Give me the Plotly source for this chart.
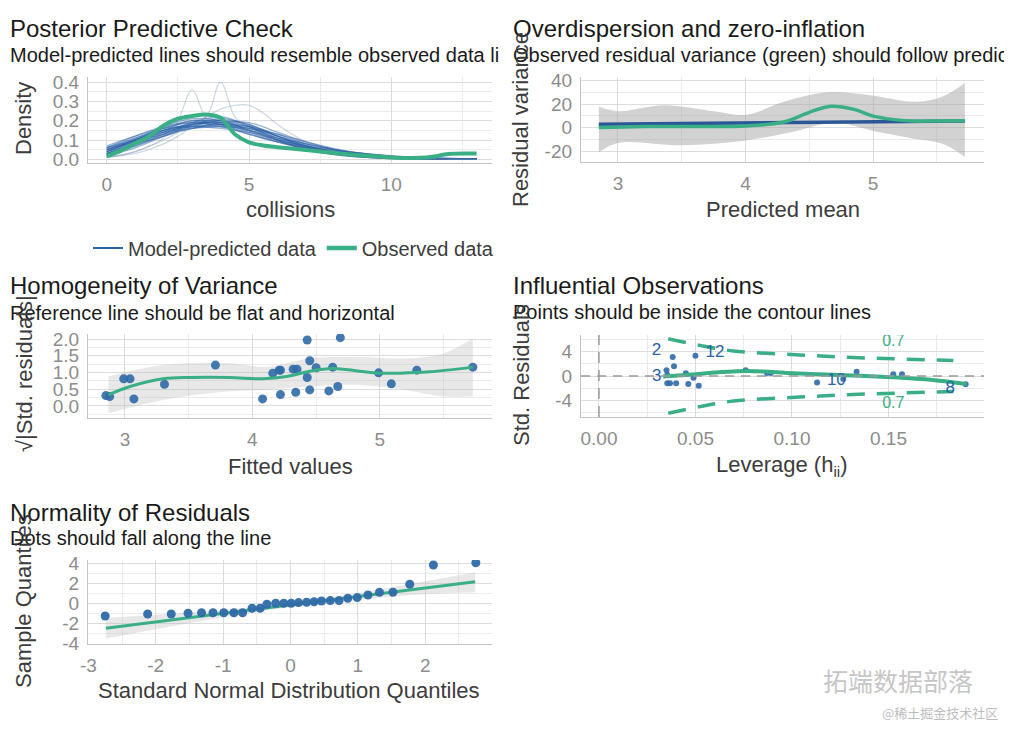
import plotly.graph_objects as go

W, H = 1012, 738
OFF = 8  # page body margin compensation (layout only)
BLUE = '#2f6aa6'
BLUE_LINE = '#2b5797'
GREEN = '#3aaf85'
FONT = 'Liberation Sans, Arial, sans-serif'

# ---------------- Panel 1: Posterior predictive check ----------------
ppc_x = [0, 1, 2, 3, 4, 5, 6, 7, 8, 9, 10, 11, 12, 13]
ppc_pred = [
    [0.05, 0.10, 0.15, 0.18, 0.19, 0.16, 0.11, 0.07, 0.04, 0.02, 0.010, 0.005, 0.003, 0.002],
    [0.03, 0.08, 0.14, 0.19, 0.20, 0.15, 0.10, 0.06, 0.03, 0.015, 0.008, 0.004, 0.002, 0.001],
    [0.06, 0.11, 0.15, 0.17, 0.17, 0.15, 0.11, 0.08, 0.05, 0.03, 0.015, 0.007, 0.003, 0.002],
    [0.02, 0.06, 0.12, 0.18, 0.21, 0.18, 0.12, 0.06, 0.03, 0.012, 0.005, 0.002, 0.001, 0.001],
    [0.04, 0.09, 0.13, 0.16, 0.18, 0.17, 0.13, 0.08, 0.05, 0.025, 0.012, 0.006, 0.003, 0.002],
    [0.05, 0.11, 0.16, 0.20, 0.18, 0.13, 0.09, 0.06, 0.035, 0.02, 0.010, 0.005, 0.002, 0.001],
    [0.03, 0.07, 0.12, 0.16, 0.19, 0.19, 0.14, 0.09, 0.05, 0.02, 0.010, 0.004, 0.002, 0.001],
    [0.06, 0.12, 0.17, 0.19, 0.17, 0.13, 0.09, 0.06, 0.04, 0.025, 0.015, 0.008, 0.004, 0.002],
    [0.04, 0.10, 0.17, 0.21, 0.20, 0.15, 0.10, 0.05, 0.025, 0.012, 0.006, 0.003, 0.001, 0.001],
    [0.05, 0.09, 0.14, 0.17, 0.18, 0.16, 0.12, 0.08, 0.05, 0.03, 0.016, 0.008, 0.004, 0.002],
    [0.03, 0.08, 0.13, 0.18, 0.19, 0.17, 0.12, 0.07, 0.04, 0.02, 0.009, 0.004, 0.002, 0.001],
    [0.07, 0.12, 0.16, 0.17, 0.16, 0.14, 0.10, 0.07, 0.045, 0.03, 0.018, 0.010, 0.005, 0.003],
    [0.04, 0.10, 0.15, 0.18, 0.20, 0.17, 0.11, 0.06, 0.03, 0.015, 0.007, 0.003, 0.001, 0.001],
    [0.02, 0.07, 0.13, 0.19, 0.22, 0.17, 0.10, 0.05, 0.025, 0.010, 0.004, 0.002, 0.001, 0.0],
    [0.05, 0.10, 0.16, 0.19, 0.18, 0.15, 0.10, 0.065, 0.04, 0.022, 0.011, 0.005, 0.002, 0.001],
    [0.03, 0.09, 0.15, 0.20, 0.19, 0.14, 0.09, 0.055, 0.03, 0.016, 0.008, 0.004, 0.002, 0.001],
    [0.06, 0.10, 0.14, 0.16, 0.17, 0.16, 0.13, 0.09, 0.055, 0.03, 0.015, 0.007, 0.003, 0.002],
    [0.04, 0.08, 0.12, 0.17, 0.20, 0.18, 0.12, 0.07, 0.035, 0.016, 0.007, 0.003, 0.001, 0.001],
]
ppc_x_fine = [0, 1, 2, 2.5, 3, 3.5, 4, 4.5, 5, 5.5, 6, 7, 8, 9, 10, 11, 12, 13]
ppc_pred_fine = [
    [0.01, 0.04, 0.11, 0.20, 0.36, 0.21, 0.17, 0.19, 0.15, 0.12, 0.10, 0.06, 0.03, 0.015, 0.007, 0.003, 0.001, 0.0],
    [0.01, 0.04, 0.10, 0.14, 0.20, 0.22, 0.40, 0.22, 0.16, 0.12, 0.09, 0.05, 0.025, 0.012, 0.005, 0.002, 0.001, 0.0],
    [0.01, 0.03, 0.08, 0.12, 0.17, 0.22, 0.26, 0.28, 0.28, 0.24, 0.18, 0.09, 0.04, 0.015, 0.005, 0.002, 0.001, 0.0],
]
ppc_obs_x = [0, 0.5, 1, 1.5, 2, 2.5, 3, 3.5, 4, 4.5, 5, 5.5, 6, 7, 8, 9, 10, 11, 11.5, 12, 13]
ppc_obs_y = [0.017, 0.045, 0.083, 0.12, 0.175, 0.21, 0.224, 0.232, 0.215, 0.13, 0.088, 0.072,
             0.063, 0.048, 0.033, 0.02, 0.01, 0.008, 0.015, 0.028, 0.03]
ppc_xticks = [0, 5, 10]
ppc_xtext = ['0', '5', '10']
ppc_yticks = [0, 0.1, 0.2, 0.3, 0.4]
ppc_ytext = ['0.0', '0.1', '0.2', '0.3', '0.4']

# ---------------- Panel 2: Overdispersion ----------------
od_pred_x = [2.85, 5.72]
od_pred_y = [2.9, 5.6]
od_obs_x = [2.85, 3.2, 3.6, 4.0, 4.3, 4.5, 4.67, 4.85, 5.0, 5.15, 5.3, 5.5, 5.72]
od_obs_y = [0.0, 1.0, 1.0, 1.4, 4.8, 13.0, 18.2, 15.5, 9.8, 7.0, 5.6, 5.6, 5.8]
od_up_x = [2.85, 3.0, 3.36, 3.75, 4.01, 4.3, 4.64, 4.95, 5.34, 5.55, 5.72]
od_up_y = [18, 14, 19, 14, 11, 22, 30, 28, 22, 26.6, 37.8]
od_lo_x = [2.85, 3.0, 3.5, 4.0, 4.35, 4.7, 5.05, 5.3, 5.55, 5.72]
od_lo_y = [-21, -13, -15, -11, -4, 4, -4, -9, -14, -25]
od_xticks = [3, 4, 5]
od_xtext = ['3', '4', '5']
od_yticks = [-20, 0, 20, 40]
od_ytext = ['-20', '0', '20', '40']

# ---------------- Panel 3: Homogeneity of variance ----------------
hv_x = [2.85, 2.88, 2.99, 3.04, 3.07, 3.31, 3.71, 4.08, 4.16, 4.21, 4.22, 4.22, 4.32, 4.35,
        4.34, 4.43, 4.45, 4.43, 4.45, 4.50, 4.60, 4.63, 4.67, 4.69, 4.99, 5.09, 5.29, 5.73]
hv_y = [0.31, 0.28, 0.81, 0.81, 0.21, 0.65, 1.22, 0.21, 0.98, 1.07, 1.07, 0.34, 1.10, 1.10,
        0.41, 1.97, 1.35, 0.85, 0.48, 1.14, 0.45, 1.16, 0.58, 2.04, 0.99, 0.66, 1.07, 1.16]
hv_fit_x = [2.87, 3.04, 3.30, 3.51, 3.82, 4.08, 4.27, 4.45, 4.63, 4.84, 5.0, 5.16, 5.39, 5.73]
hv_fit_y = [0.33, 0.58, 0.81, 0.85, 0.85, 0.81, 0.88, 1.04, 1.12, 1.04, 0.98, 0.98, 1.02, 1.16]
hv_band_x = [2.87, 3.3, 3.8, 4.1, 4.45, 4.8, 5.2, 5.5, 5.73]
hv_band_up = [0.88, 1.22, 1.28, 1.17, 1.42, 1.47, 1.42, 1.57, 2.02]
hv_band_lo = [-0.22, 0.18, 0.43, 0.48, 0.58, 0.63, 0.48, 0.28, 0.28]
hv_xticks = [3, 4, 5]
hv_xtext = ['3', '4', '5']
hv_yticks = [0, 0.5, 1.0, 1.5, 2.0]
hv_ytext = ['0.0', '0.5', '1.0', '1.5', '2.0']

# ---------------- Panel 4: Influential observations ----------------
io_x = [0.035, 0.0354, 0.0382, 0.0389, 0.0354, 0.0368, 0.040, 0.045, 0.0463, 0.049, 0.050,
        0.0517, 0.076, 0.087, 0.089, 0.113, 0.1266, 0.1335, 0.1525, 0.157, 0.190]
io_y = [0.96, 0.16, 3.1, 1.6, -1.2, -1.2, -1.2, 0.43, -1.3, -0.3, 3.3,
        -1.6, 0.96, 0.5, 0.5, -1.07, -0.5, 0.69, 0.3, 0.3, -1.33]
io_fit_x = [0.0333, 0.045, 0.076, 0.1007, 0.125, 0.1525, 0.173, 0.1905]
io_fit_y = [-0.1, 0.16, 0.8, 0.43, 0.16, -0.2, -0.64, -1.3]
io_cook_x = [0.0359, 0.0523, 0.0696, 0.104, 0.1387, 0.1836]
io_cook_up = [6.1, 5.0, 4.1, 3.45, 2.95, 2.55]
io_cook_lo = [-6.1, -5.0, -4.1, -3.45, -2.95, -2.55]
io_lab_text = ['2', '12', '3', '10', '8']
io_lab_x = [0.0298, 0.0601, 0.0300, 0.123, 0.182]
io_lab_y = [4.2, 3.8, -0.15, -0.7, -2.1]
io_cook_lab = ['0.7', '0.7']
io_cook_lab_x = [0.1525, 0.1525]
io_cook_lab_y = [5.5, -4.6]
io_xticks = [0, 0.05, 0.10, 0.15]
io_xtext = ['0.00', '0.05', '0.10', '0.15']
io_yticks = [-4, 0, 4]
io_ytext = ['-4', '0', '4']

# ---------------- Panel 5: Normality of residuals ----------------
qq_x = [-2.75, -2.12, -1.77, -1.52, -1.32, -1.15, -0.99, -0.84, -0.71, -0.57, -0.45, -0.35,
        -0.22, -0.10, 0.01, 0.12, 0.24, 0.35, 0.46, 0.59, 0.72, 0.85, 0.99, 1.15, 1.32, 1.52,
        1.77, 2.12, 2.75]
qq_y = [-1.27, -1.07, -1.07, -1.0, -0.94, -0.94, -0.94, -0.94, -0.94, -0.5, -0.5, -0.1,
        0.0, 0.0, 0.0, 0.07, 0.1, 0.16, 0.23, 0.27, 0.27, 0.5, 0.57, 0.83, 1.1, 1.1,
        1.9, 3.83, 4.06]
qq_line_x = [-2.74, 2.74]
qq_line_y = [-2.5, 2.16]
qq_band_x = [-2.74, -2.0, -1.0, 0.0, 1.0, 2.0, 2.74]
qq_band_up = [-1.45, -1.15, -0.65, 0.05, 1.0, 2.2, 3.1]
qq_band_lo = [-3.55, -2.6, -1.4, -0.4, 0.35, 0.9, 1.1]
qq_xticks = [-3, -2, -1, 0, 1, 2]
qq_xtext = ['-3', '-2', '-1', '0', '1', '2']
qq_yticks = [-4, -2, 0, 2, 4]
qq_ytext = ['-4', '-2', '0', '2', '4']


def px(p):
    return (p - OFF) / W


def py(p):
    return 1 - (p - OFF) / H


fig = go.Figure()
common = dict(showlegend=False, hoverinfo='skip')

# Panel 1
for ys in ppc_pred:
    fig.add_trace(go.Scatter(x=ppc_x, y=ys, mode='lines', xaxis='x', yaxis='y',
                             line=dict(color='rgba(30,88,165,0.45)', width=1.4, shape='spline'), **common))
for ys in ppc_pred_fine:
    fig.add_trace(go.Scatter(x=ppc_x_fine, y=ys, mode='lines', xaxis='x', yaxis='y',
                             line=dict(color='rgba(110,140,175,0.35)', width=1.2, shape='spline'), **common))
fig.add_trace(go.Scatter(x=ppc_obs_x, y=ppc_obs_y, mode='lines', xaxis='x', yaxis='y',
                         line=dict(color=GREEN, width=4, shape='spline'), **common))
fig.add_trace(go.Scatter(x=[None], y=[None], mode='lines', xaxis='x', yaxis='y', name='Model-predicted data',
                         line=dict(color='#2b62a8', width=2), showlegend=True))
fig.add_trace(go.Scatter(x=[None], y=[None], mode='lines', xaxis='x', yaxis='y', name='Observed data',
                         line=dict(color=GREEN, width=4.5), showlegend=True))

# Panel 2
fig.add_trace(go.Scatter(x=od_up_x, y=od_up_y, mode='lines', xaxis='x2', yaxis='y2',
                         line=dict(width=0, shape='spline'), **common))
fig.add_trace(go.Scatter(x=od_lo_x, y=od_lo_y, mode='lines', xaxis='x2', yaxis='y2',
                         line=dict(width=0, shape='spline'), fill='tonexty',
                         fillcolor='rgba(165,165,165,0.5)', **common))
fig.add_trace(go.Scatter(x=od_pred_x, y=od_pred_y, mode='lines', xaxis='x2', yaxis='y2',
                         line=dict(color=BLUE_LINE, width=3.5), **common))
fig.add_trace(go.Scatter(x=od_obs_x, y=od_obs_y, mode='lines', xaxis='x2', yaxis='y2',
                         line=dict(color=GREEN, width=3.5, shape='spline'), **common))

# Panel 3
fig.add_trace(go.Scatter(x=hv_band_x, y=hv_band_up, mode='lines', xaxis='x3', yaxis='y3',
                         line=dict(width=0, shape='spline'), **common))
fig.add_trace(go.Scatter(x=hv_band_x, y=hv_band_lo, mode='lines', xaxis='x3', yaxis='y3',
                         line=dict(width=0, shape='spline'), fill='tonexty',
                         fillcolor='rgba(190,190,190,0.35)', **common))
fig.add_trace(go.Scatter(x=hv_x, y=hv_y, mode='markers', xaxis='x3', yaxis='y3',
                         marker=dict(color=BLUE, size=9, opacity=0.9), **common))
fig.add_trace(go.Scatter(x=hv_fit_x, y=hv_fit_y, mode='lines', xaxis='x3', yaxis='y3',
                         line=dict(color=GREEN, width=3, shape='spline'), **common))

# Panel 4
fig.add_trace(go.Scatter(x=io_x, y=io_y, mode='markers', xaxis='x4', yaxis='y4',
                         marker=dict(color=BLUE, size=6, opacity=0.9), **common))
fig.add_trace(go.Scatter(x=io_fit_x, y=io_fit_y, mode='lines', xaxis='x4', yaxis='y4',
                         line=dict(color=GREEN, width=4, shape='spline'), **common))
for ys in (io_cook_up, io_cook_lo):
    fig.add_trace(go.Scatter(x=io_cook_x, y=ys, mode='lines', xaxis='x4', yaxis='y4',
                             line=dict(color=GREEN, width=3.5, dash='18px,12px', shape='spline'), **common))
fig.add_trace(go.Scatter(x=io_lab_x, y=io_lab_y, mode='text', text=io_lab_text, xaxis='x4', yaxis='y4',
                         textfont=dict(color='#2b62a8', size=17, family=FONT), **common))
fig.add_trace(go.Scatter(x=io_cook_lab_x, y=io_cook_lab_y, mode='text', text=io_cook_lab, xaxis='x4', yaxis='y4',
                         textfont=dict(color=GREEN, size=16, family=FONT), **common))

# Panel 5
fig.add_trace(go.Scatter(x=qq_band_x, y=qq_band_up, mode='lines', xaxis='x5', yaxis='y5',
                         line=dict(width=0, shape='spline'), **common))
fig.add_trace(go.Scatter(x=qq_band_x, y=qq_band_lo, mode='lines', xaxis='x5', yaxis='y5',
                         line=dict(width=0, shape='spline'), fill='tonexty',
                         fillcolor='rgba(190,190,190,0.35)', **common))
fig.add_trace(go.Scatter(x=qq_line_x, y=qq_line_y, mode='lines', xaxis='x5', yaxis='y5',
                         line=dict(color=GREEN, width=3), **common))
fig.add_trace(go.Scatter(x=qq_x, y=qq_y, mode='markers', xaxis='x5', yaxis='y5',
                         marker=dict(color=BLUE, size=9, opacity=0.95), **common))


def axis(domain, rng, tickvals, ticktext, mdtick, anchor, standoff):
    return dict(domain=domain, range=rng, tickmode='array', tickvals=tickvals, ticktext=ticktext,
                anchor=anchor, showgrid=True, gridcolor='#dcdcdc', gridwidth=1,
                minor=dict(dtick=mdtick, tick0=0, showgrid=True, gridcolor='#ebebeb', gridwidth=1),
                showline=True, linecolor='#c4c4c4', linewidth=1.3, zeroline=False, ticks='',
                tickfont=dict(size=19, color='#8c8c8c', family=FONT), fixedrange=True,
                ticklabelstandoff=standoff, automargin=False)


XL = [px(88), px(492)]
XR = [px(581), px(984)]

layout = dict(
    width=W, height=H, margin=dict(l=0, r=0, t=0, b=0, pad=0, autoexpand=False),
    paper_bgcolor='white', plot_bgcolor='white',
    font=dict(family=FONT),
    xaxis=axis(XL, [-0.66, 13.54], ppc_xticks, ppc_xtext, 2.5, 'y', 4),
    yaxis=axis([py(163), py(77)], [-0.019, 0.426], ppc_yticks, ppc_ytext, 0.05, 'x', 4),
    xaxis2=axis(XR, [2.71, 5.87], od_xticks, od_xtext, 0.5, 'y2', 4),
    yaxis2=axis([py(162), py(77)], [-29.2, 43.0], od_yticks, od_ytext, 10, 'x2', 4),
    xaxis3=axis(XL, [2.71, 5.88], hv_xticks, hv_xtext, 0.5, 'y3', 4),
    yaxis3=axis([py(418), py(334)], [-0.36, 2.15], hv_yticks, hv_ytext, 0.25, 'x3', 4),
    xaxis4=axis(XR, [-0.0093, 0.1995], io_xticks, io_xtext, 0.025, 'y4', 4),
    yaxis4=axis([py(417), py(335)], [-6.7, 6.7], io_yticks, io_ytext, 2, 'x4', 4),
    xaxis5=axis(XL, [-3.005, 2.99], qq_xticks, qq_xtext, 0.5, 'y5', 4),
    yaxis5=axis([py(644), py(560)], [-4.07, 4.33], qq_yticks, qq_ytext, 1, 'x5', 4),
    legend=dict(orientation='h', x=px(88), y=py(248), xanchor='left', yanchor='middle',
                font=dict(size=20, color='#3c3c3c', family=FONT), bgcolor='rgba(0,0,0,0)',
                itemwidth=30, traceorder='normal'),
    shapes=[
        dict(type='line', xref='x4', yref='y4 domain', x0=0, x1=0, y0=0, y1=1,
             line=dict(color='#9a9a9a', width=1.5, dash='11px,7px')),
        dict(type='line', xref='x4 domain', yref='y4', x0=0, x1=1, y0=0, y1=0,
             line=dict(color='#9a9a9a', width=1.5, dash='9px,7px')),
    ],
)

anns = []


def txt(s, x, y, size, color='#1a1a1a', angle=0, xanchor='left', family=FONT):
    anns.append(dict(text=s, x=px(x), y=py(y), xref='paper', yref='paper', showarrow=False,
                     xanchor=xanchor, yanchor='middle', textangle=angle,
                     font=dict(size=size, color=color, family=family)))


# titles & subtitles
txt('Posterior Predictive Check', 8, 29, 24)
txt('Model-predicted lines should resemble observed data li', 8, 55, 20)
txt('Overdispersion and zero-inflation', 511, 29, 24)
txt('Observed residual variance (green) should follow predicted residual variance (blue)', 511, 55, 20)
txt('Homogeneity of Variance', 8, 285, 24)
txt('Reference line should be flat and horizontal', 8, 313, 20)
txt('Influential Observations', 511, 285, 24)
txt('Points should be inside the contour lines', 511, 312, 20)
txt('Normality of Residuals', 8, 512, 24)
txt('Dots should fall along the line', 8, 538, 20)
# x axis titles
AX = '#3c3c3c'
txt('collisions', 290, 209, 22, AX, xanchor='center')
txt('Predicted mean', 783, 209, 22, AX, xanchor='center')
txt('Fitted values', 290, 466, 22, AX, xanchor='center')
txt('Leverage (h<sub>ii</sub>)', 782, 466, 22, AX, xanchor='center')
txt('Standard Normal Distribution Quantiles', 289, 690, 22, AX, xanchor='center')
# y axis titles
txt('Density', 24, 119, 22, AX, angle=-90, xanchor='center')
txt('Residual variance', 521, 120, 22, AX, angle=-90, xanchor='center')
txt('√|Std. residuals|', 25, 374, 22, AX, angle=-90, xanchor='center')
txt('Std. Residuals', 521, 375, 22, AX, angle=-90, xanchor='center')
txt('Sample Quantiles', 23, 601, 22, AX, angle=-90, xanchor='center')
# watermark
txt('拓端数据部落', 898, 680, 25, '#c6c6c6', xanchor='center', family='Noto Sans CJK SC')
txt('@稀土掘金技术社区', 940, 712, 13, '#bdbdbd', xanchor='center', family='Noto Sans CJK SC')

layout['annotations'] = anns
fig.update_layout(**layout)
fig.write_html('out.html')
